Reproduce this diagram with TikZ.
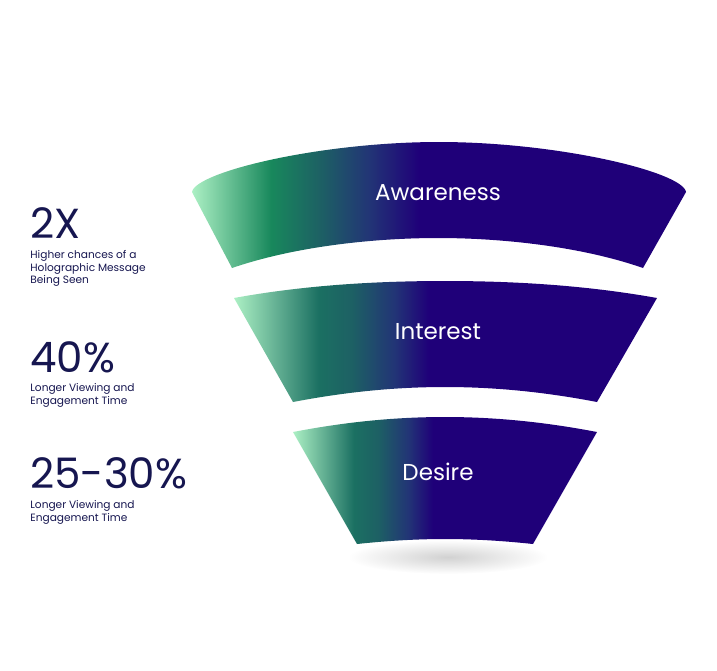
\documentclass[tikz,border=0pt]{standalone}
\usepackage{fontspec}
\setmainfont{Poppins}
\usetikzlibrary{positioning}
\definecolor{mint}{RGB}{172,240,196}
\definecolor{deepgreen}{RGB}{24,136,92}
\definecolor{deepteal}{RGB}{27,112,98}
\definecolor{tealblue}{RGB}{29,96,100}
\definecolor{slateblue}{RGB}{34,52,118}
\definecolor{funnelblue}{RGB}{31,0,121}
\definecolor{statnavy}{RGB}{22,22,80}
\pgfdeclarehorizontalshading{funnelfill}{100bp}{color(0bp)=(mint); color(25bp)=(mint);
  color(33bp)=(deepgreen); color(38bp)=(tealblue); color(43bp)=(slateblue);
  color(48bp)=(funnelblue); color(100bp)=(funnelblue)}
\pgfdeclarehorizontalshading{funnelfilllow}{100bp}{color(0bp)=(mint); color(25bp)=(mint);
  color(35bp)=(deepteal); color(39bp)=(tealblue); color(44bp)=(slateblue);
  color(48bp)=(funnelblue); color(100bp)=(funnelblue)}
\tikzset{
  stage/.style={shading=funnelfilllow},
  stagelabel/.style={text=white, font=\fontsize{11.5}{14}\selectfont, inner sep=0pt},
  statnum/.style={text=statnavy, font=\fontsize{21}{25}\selectfont, anchor=base west, inner sep=0pt},
  statnote/.style={text=statnavy, font=\fontsize{5.3}{6.35}\selectfont, align=left, anchor=north west, inner sep=0pt}
}
\begin{document}
\begin{tikzpicture}[x=0.5pt, y=-0.5pt]
\useasboundingbox (0,0) rectangle (717,670);
%%% shadow under the funnel %%%
\shade[inner color=black!18, outer color=white] (448,557) ellipse [x radius=100, y radius=17];

%%% funnel stages %%%
\shade[stage, shading=funnelfill] (192,192) .. controls (195,172) and (320,142) .. (439,142)
  .. controls (558,142) and (683,172) .. (686,192) -- (643,268)
  .. controls (580,246) and (500,238) .. (438,238)
  .. controls (376,238) and (296,246) .. (232,268) -- cycle;
\shade[stage] (234,298) .. controls (300,286) and (370,281) .. (445,281)
  .. controls (520,281) and (590,286) .. (657,298) -- (597,402)
  .. controls (550,393) and (500,387) .. (445,387)
  .. controls (390,387) and (340,393) .. (293,402) -- cycle;
\shade[stage] (293,432) .. controls (340,423) and (390,417) .. (445,417)
  .. controls (500,417) and (550,423) .. (597,432) -- (533,544)
  .. controls (505,541) and (475,539) .. (445,539)
  .. controls (415,539) and (385,541) .. (357,544) -- cycle;

\node[stagelabel] (awareness) at (438,193) {Awareness};
\node[stagelabel] (interest) at (438,332) {Interest};
\node[stagelabel] (desire) at (438,472) {Desire};

%%% figures on the left %%%
\node[statnum] (twox) at (30,238) {2X};
\node[statnote] (twoxnote) at (30,250) {Higher chances of a\\Holographic Message\\Being Seen};

\node[statnum] (forty) at (30,372) {40\%};
\node[statnote] (fortynote) at (30,383) {Longer Viewing and\\Engagement Time};

\node[statnum] (range) at (30,488) {25-30\%};
\node[statnote] (rangenote) at (30,500) {Longer Viewing and\\Engagement Time};
\end{tikzpicture}
\end{document}
